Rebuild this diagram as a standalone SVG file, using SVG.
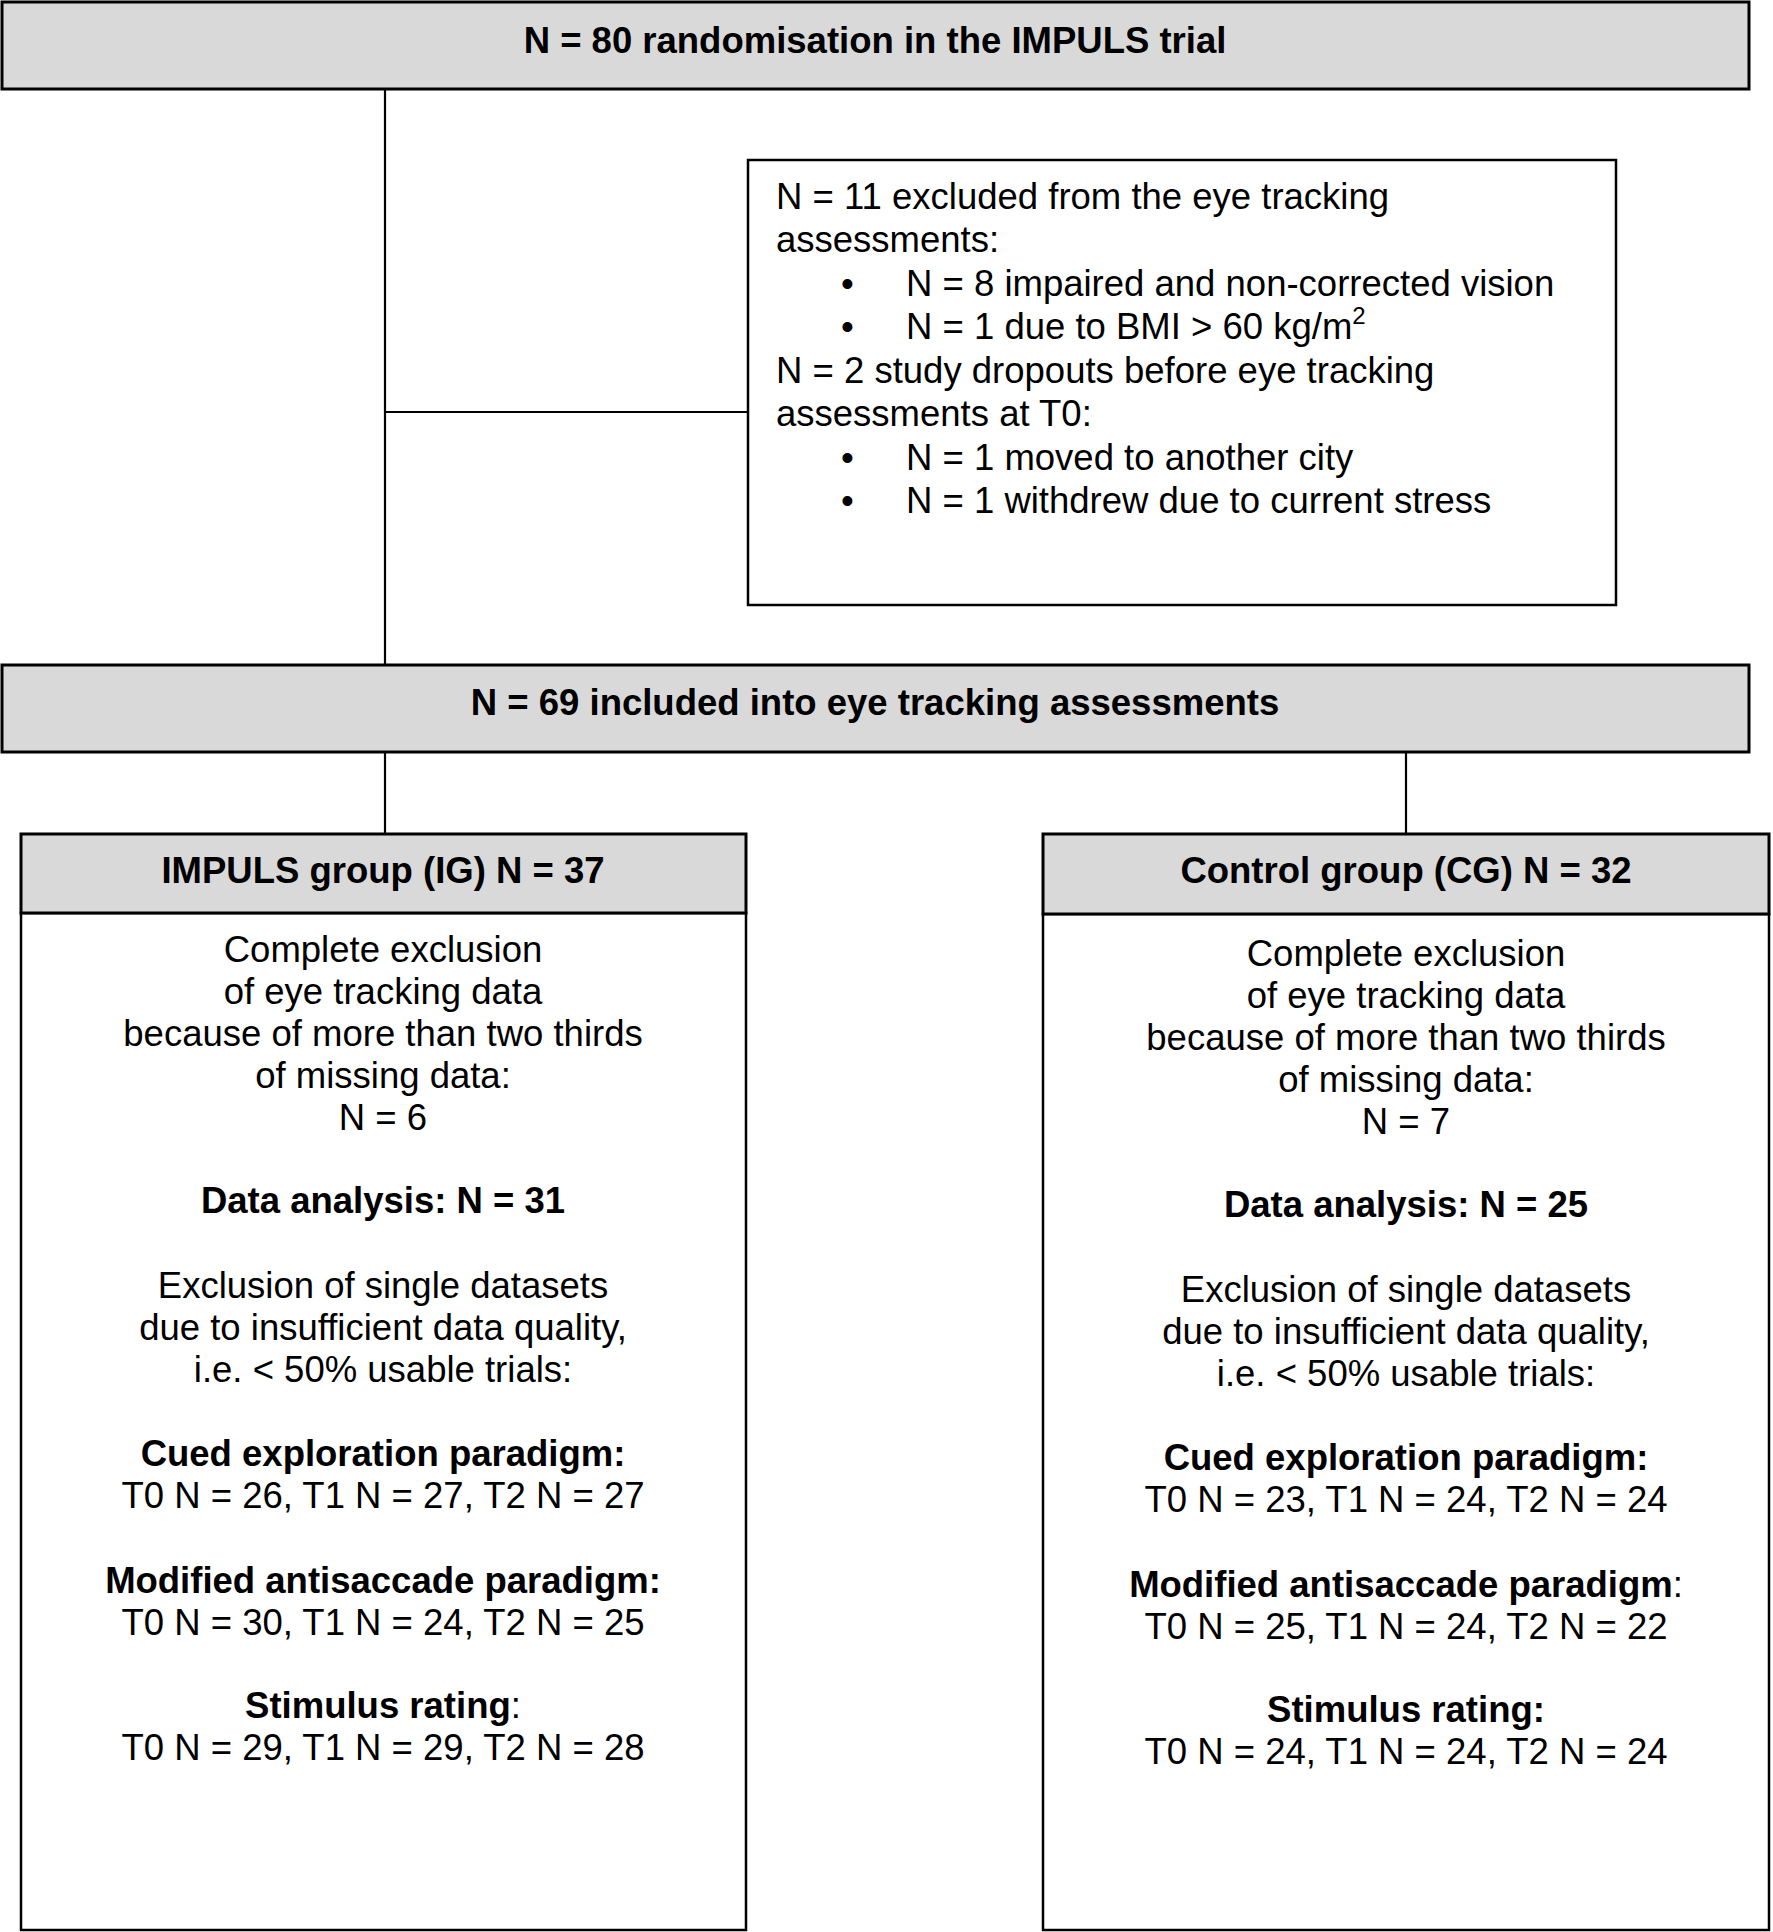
<svg xmlns="http://www.w3.org/2000/svg" width="1773" height="1932" viewBox="0 0 1773 1932">
<style>
text{font-family:"Liberation Sans",Arial,sans-serif;font-size:36.5px;fill:#000}
.b{font-weight:bold}
.n{font-weight:normal}
.c{text-anchor:middle}
.grey{fill:#d9d9d9;stroke:#000;stroke-width:3}
.white{fill:#fff;stroke:#000;stroke-width:2.5}
.con{stroke:#000;stroke-width:2.2;fill:none}
</style>
<rect width="1773" height="1932" fill="#fff"/>
<g id="connectors">
<path class="con" d="M385 89V665"/>
<path class="con" d="M385 412H747"/>
<path class="con" d="M385 752V834"/>
<path class="con" d="M1406 752V834"/>
</g>
<g id="randomisation">
<rect class="grey" x="2" y="2" width="1747" height="87"/>
<text class="b c" x="875" y="53">N = 80 randomisation in the IMPULS trial</text>
</g>
<g id="excluded">
<rect class="white" x="748" y="160" width="868" height="445"/>
<text x="776" y="209">N = 11 excluded from the eye tracking</text>
<text x="776" y="252">assessments:</text>
<text x="841" y="296">•</text><text x="906" y="296">N = 8 impaired and non-corrected vision</text>
<text x="841" y="339">•</text><text x="906" y="339">N = 1 due to BMI &gt; 60 kg/m<tspan font-size="24" dy="-15">2</tspan></text>
<text x="776" y="383">N = 2 study dropouts before eye tracking</text>
<text x="776" y="426">assessments at T0:</text>
<text x="841" y="470">•</text><text x="906" y="470">N = 1 moved to another city</text>
<text x="841" y="513">•</text><text x="906" y="513">N = 1 withdrew due to current stress</text>
</g>
<g id="included">
<rect class="grey" x="2" y="665" width="1747" height="87"/>
<text class="b c" x="875" y="715">N = 69 included into eye tracking assessments</text>
</g>
<g id="ig">
<rect class="white" x="21" y="913" width="725" height="1017"/>
<rect class="grey" x="21" y="834" width="725" height="79"/>
<text class="b c" x="383" y="883">IMPULS group (IG) N = 37</text>
<text class="c" x="383" y="962">Complete exclusion</text>
<text class="c" x="383" y="1004">of eye tracking data</text>
<text class="c" x="383" y="1046">because of more than two thirds</text>
<text class="c" x="383" y="1088">of missing data:</text>
<text class="c" x="383" y="1130">N = 6</text>
<text class="b c" x="383" y="1213">Data analysis: N = 31</text>
<text class="c" x="383" y="1298">Exclusion of single datasets</text>
<text class="c" x="383" y="1340">due to insufficient data quality,</text>
<text class="c" x="383" y="1382">i.e. &lt; 50% usable trials:</text>
<text class="b c" x="383" y="1466">Cued exploration paradigm:</text>
<text class="c" x="383" y="1508">T0 N = 26, T1 N = 27, T2 N = 27</text>
<text class="b c" x="383" y="1593">Modified antisaccade paradigm:</text>
<text class="c" x="383" y="1635">T0 N = 30, T1 N = 24, T2 N = 25</text>
<text class="b c" x="383" y="1718">Stimulus rating<tspan class="n">:</tspan></text>
<text class="c" x="383" y="1760">T0 N = 29, T1 N = 29, T2 N = 28</text>
</g>
<g id="cg">
<rect class="white" x="1043" y="914" width="726" height="1016"/>
<rect class="grey" x="1043" y="834" width="726" height="80"/>
<text class="b c" x="1406" y="883">Control group (CG) N = 32</text>
<text class="c" x="1406" y="966">Complete exclusion</text>
<text class="c" x="1406" y="1008">of eye tracking data</text>
<text class="c" x="1406" y="1050">because of more than two thirds</text>
<text class="c" x="1406" y="1092">of missing data:</text>
<text class="c" x="1406" y="1134">N = 7</text>
<text class="b c" x="1406" y="1217">Data analysis: N = 25</text>
<text class="c" x="1406" y="1302">Exclusion of single datasets</text>
<text class="c" x="1406" y="1344">due to insufficient data quality,</text>
<text class="c" x="1406" y="1386">i.e. &lt; 50% usable trials:</text>
<text class="b c" x="1406" y="1470">Cued exploration paradigm:</text>
<text class="c" x="1406" y="1512">T0 N = 23, T1 N = 24, T2 N = 24</text>
<text class="b c" x="1406" y="1597">Modified antisaccade paradigm<tspan class="n">:</tspan></text>
<text class="c" x="1406" y="1639">T0 N = 25, T1 N = 24, T2 N = 22</text>
<text class="b c" x="1406" y="1722">Stimulus rating:</text>
<text class="c" x="1406" y="1764">T0 N = 24, T1 N = 24, T2 N = 24</text>
</g>
</svg>
